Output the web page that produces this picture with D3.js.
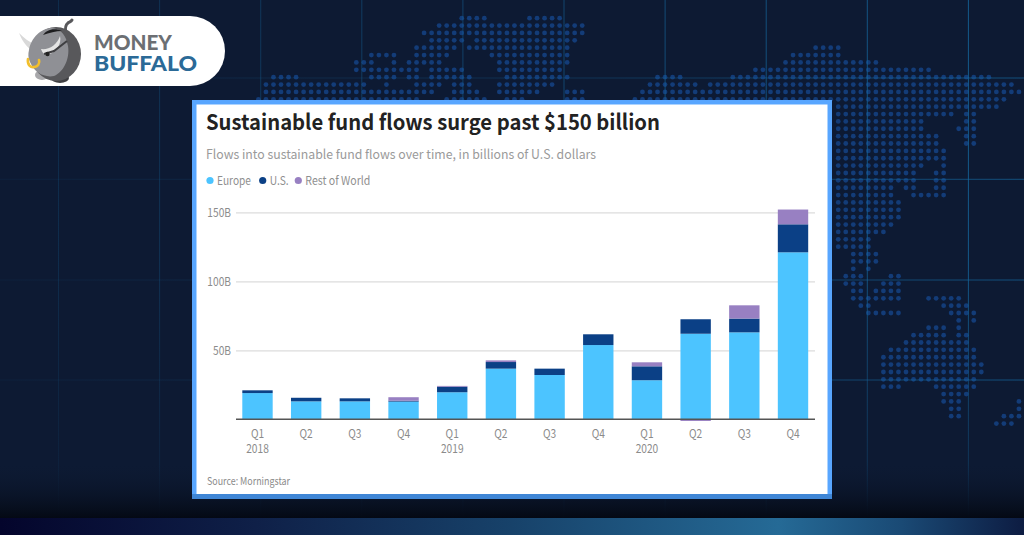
<!DOCTYPE html>
<html>
<head>
<meta charset="utf-8">
<title>Sustainable fund flows</title>
<script src="https://cdn.jsdelivr.net/npm/d3@7"></script>
<style>
  html, body { margin: 0; padding: 0; background: #0d1a33; }
  svg { display: block; }
  text { font-family: "Noto Sans CJK SC", "Noto Sans", sans-serif; }
  .tick-label { fill: #8b8b8b; font-size: 12px; }
</style>
</head>
<body>
<svg id="chart" width="1024" height="535"></svg>
<script>
// Fund flows by quarter, billions of U.S. dollars
const quarters = ["Q1", "Q2", "Q3", "Q4", "Q1", "Q2", "Q3", "Q4", "Q1", "Q2", "Q3", "Q4"];
const years = ["2018", "", "", "", "2019", "", "", "", "2020", "", "", ""];
const europe = [19, 13, 13, 12.8, 19.6, 36.7, 32.1, 53.8, 28.3, 62, 63, 121];
const us = [2, 2.6, 2.2, 0.7, 4, 4.8, 4.6, 7.8, 10.1, 10.5, 10, 20.3];
const restOfWorld = [0, 0, 0, 2.5, 0.6, 1.2, 0, 0, 2.9, -1.2, 9.6, 10.7];
const seriesNames = ["Europe", "U.S.", "Rest of World"];
const seriesColors = ["#4cc4ff", "#0b4086", "#9880c2"];
const yTicks = [50, 100, 150];

// Dotted world map: [row, first column, last column] runs on a regular grid
const mapRuns = [
  [-4,-49,-46],[-4,-40,-36],
  [-3,-52,-33],
  [-2,-54,-33],
  [-1,-53,-49],[-1,-47,-34],
  [0,-55,-50],[0,-48,-35],[0,-2,1],
  [1,-61,-58],[1,-55,-51],[1,-45,-35],[1,-5,1],
  [2,-63,-61],[2,-58,-58],[2,-56,-52],[2,-44,-35],[2,-6,6],
  [3,-63,-55],[3,-53,-49],[3,-44,-36],[3,-10,13],
  [4,-74,-71],[4,-61,-58],[4,-56,-55],[4,-53,-48],[4,-43,-35],[4,-23,-20],[4,-13,21],
  [5,-75,-62],[5,-59,-59],[5,-55,-52],[5,-50,-48],[5,-44,-37],[5,-24,-18],[5,-16,24],
  [6,-75,-53],[6,-50,-47],[6,-44,-39],[6,-35,-33],[6,-25,25],
  [7,-76,-55],[7,-51,-46],[7,-43,-41],[7,-35,-33],[7,-26,23],
  [8,1,22],
  [9,1,16],[9,18,19],
  [10,1,12],[10,18,19],
  [11,1,12],[11,17,19],
  [12,1,14],[12,18,19],
  [13,1,14],[13,18,19],
  [14,1,15],[15,1,15],
  [16,1,12],[16,15,15],
  [17,1,11],[17,14,15],
  [18,1,11],[18,14,15],
  [19,1,8],[19,10,11],[19,14,15],
  [20,1,8],[20,11,15],
  [21,1,9],[22,1,9],[23,1,9],[24,1,8],[25,1,7],[26,1,5],[27,1,5],
  [28,3,6],[29,3,6],
  [30,3,3],[30,5,5],
  [31,2,4],[31,8,9],
  [32,2,4],[32,7,9],
  [33,3,4],[33,6,9],
  [34,3,9],[34,13,17],
  [35,4,5],[35,15,18],
  [36,5,9],[36,16,19],
  [37,17,17],[37,19,19],
  [38,13,15],[38,17,17],
  [39,11,15],[39,17,18],
  [40,10,18],[41,8,19],[42,7,19],[43,7,20],[44,7,20],[45,7,19],
  [46,7,9],[46,14,19],
  [47,15,18],
  [48,15,17],[48,25,25],
  [49,16,17],[49,25,25],
  [50,16,17],[50,23,25],
  [51,22,24]
];

const svg = d3.select("#chart");
const defs = svg.append("defs");

// Page background with a darker foot and a coloured band along the bottom
const fade = defs.append("linearGradient").attr("id", "footFade")
  .attr("x1", 0).attr("x2", 0).attr("y1", 0).attr("y2", 1);
fade.append("stop").attr("offset", 0).attr("stop-color", "#0d1a33").attr("stop-opacity", 0);
fade.append("stop").attr("offset", 1).attr("stop-color", "#040914");

const band = defs.append("linearGradient").attr("id", "footBand");
[[0, "#04052c"], [0.25, "#0f2048"], [0.5, "#17426a"], [0.76, "#256a96"], [0.88, "#1a4a75"], [1, "#0d1c42"]]
  .forEach(([o, c]) => band.append("stop").attr("offset", o).attr("stop-color", c));

// Graticule strokes: the verticals dim downward, the horizontals dim to the left
const vLine = defs.append("linearGradient").attr("id", "vLine").attr("gradientUnits", "userSpaceOnUse")
  .attr("x1", 0).attr("x2", 0).attr("y1", 0).attr("y2", 518);
vLine.append("stop").attr("offset", 0).attr("stop-color", "#14669c");
vLine.append("stop").attr("offset", 0.5).attr("stop-color", "#14669c");
vLine.append("stop").attr("offset", 1).attr("stop-color", "#14669c").attr("stop-opacity", 0.25);
const hLine = defs.append("linearGradient").attr("id", "hLine").attr("gradientUnits", "userSpaceOnUse")
  .attr("x1", 0).attr("x2", 1024).attr("y1", 0).attr("y2", 0);
hLine.append("stop").attr("offset", 0).attr("stop-color", "#14669c").attr("stop-opacity", 0.08);
hLine.append("stop").attr("offset", 0.55).attr("stop-color", "#14669c").attr("stop-opacity", 0.3);
hLine.append("stop").attr("offset", 1).attr("stop-color", "#14669c").attr("stop-opacity", 0.7);

svg.append("rect").attr("width", 1024).attr("height", 535).attr("fill", "#0d1a33");

// Map dots
const colX = c => 830.7 + 7.53 * c;
const rowY = r => 47.7 + 7.37 * r;
const dots = mapRuns.flatMap(([r, a, b]) => d3.range(a, b + 1).map(c => [r, c]));
svg.append("g").selectAll("circle").data(dots).join("circle")
  .attr("cx", d => colX(d[1])).attr("cy", d => rowY(d[0]))
  .attr("r", 2.4).attr("fill", "#133c78");

// Thin graticule, brighter toward the right edge
const gridXs = d3.range(0, 10).map(k => 58.5 + 101.1 * k);
const gridYs = [78, 179.3, 280, 380];
const glow = d3.scaleLinear().domain([0, 1024]).range([0.2, 0.85]);
svg.append("g").selectAll("line").data(gridXs).join("line")
  .attr("x1", d => d + 0.01).attr("x2", d => d).attr("y1", 0).attr("y2", 518)
  .attr("stroke", "url(#vLine)").attr("stroke-opacity", d => glow(d));
svg.append("g").selectAll("line").data(gridYs).join("line")
  .attr("x1", 0).attr("x2", 1024).attr("y1", d => d).attr("y2", d => d + 0.01)
  .attr("stroke", "url(#hLine)");

svg.append("rect").attr("x", 0).attr("y", 462).attr("width", 1024).attr("height", 56).attr("fill", "url(#footFade)");
svg.append("rect").attr("x", 0).attr("y", 518).attr("width", 1024).attr("height", 17).attr("fill", "url(#footBand)");

// Card
svg.append("rect").attr("x", 192).attr("y", 100).attr("width", 640).attr("height", 399).attr("fill", "#58a6ff");
svg.append("rect").attr("x", 192).attr("y", 494).attr("width", 640).attr("height", 5).attr("fill", "#3f86d6");
svg.append("rect").attr("x", 196.5).attr("y", 104.5).attr("width", 631).attr("height", 389.5).attr("fill", "#fff");

// Heading block, set slightly condensed
svg.append("text").attr("x", 206).attr("y", 130)
  .attr("font-size", 21.5).attr("font-weight", 700).attr("fill", "#222")
  .attr("textLength", 454).attr("lengthAdjust", "spacingAndGlyphs")
  .text("Sustainable fund flows surge past $150 billion");
svg.append("text").attr("x", 206).attr("y", 159)
  .attr("font-size", 13).attr("fill", "#9a9a9a")
  .attr("textLength", 390).attr("lengthAdjust", "spacingAndGlyphs")
  .text("Flows into sustainable fund flows over time, in billions of U.S. dollars");

// Legend
const legendDotX = [210, 262.7, 298.3];
const legendWidths = [34, 19, 65];
const legend = svg.append("g").selectAll("g").data(seriesNames).join("g")
  .attr("transform", (d, i) => `translate(${legendDotX[i]},180.5)`);
legend.append("circle").attr("r", 3.6).attr("fill", (d, i) => seriesColors[i]);
legend.append("text").attr("x", 7).attr("y", 4.3)
  .attr("font-size", 12).attr("fill", "#8f8f8f")
  .attr("textLength", (d, i) => legendWidths[i]).attr("lengthAdjust", "spacingAndGlyphs")
  .text(d => d);

// Scales
const x = d3.scaleBand().domain(d3.range(quarters.length))
  .range([233.15, 817.35]).paddingInner(0.376).paddingOuter(0.188);
const y = d3.scaleLinear().domain([0, 150]).range([419.3, 212.3]);

// Y axis with full-width gridlines
const yAxis = svg.append("g").attr("transform", "translate(236,0)")
  .call(d3.axisLeft(y).tickValues(yTicks).tickSize(-579).tickPadding(5).tickFormat(d => d + "B"));
yAxis.select(".domain").remove();
yAxis.selectAll("line").attr("stroke", "#dcdcdc").attr("stroke-width", 1.2);
yAxis.selectAll("text").attr("class", "tick-label")
  .attr("x", 0).attr("transform", "translate(-5,0) scale(0.85,1)");

// Stacked bars; a negative value hangs below the baseline
const rows = quarters.map((q, i) => ({ i, Europe: europe[i], "U.S.": us[i], "Rest of World": restOfWorld[i] }));
const stacked = d3.stack().keys(seriesNames).offset(d3.stackOffsetDiverging)(rows);
svg.append("g").selectAll("g").data(stacked).join("g")
  .attr("fill", (d, i) => seriesColors[i])
  .selectAll("rect").data(d => d).join("rect")
  .attr("x", d => x(d.data.i)).attr("width", x.bandwidth())
  .attr("y", d => y(Math.max(d[0], d[1])))
  .attr("height", d => Math.abs(y(d[0]) - y(d[1])));

// Baseline and two-line quarter labels
const xAxis = svg.append("g").attr("transform", `translate(0,${y(0)})`)
  .call(d3.axisBottom(x).tickSize(0).tickFormat(d => quarters[d]));
xAxis.select(".domain").attr("d", "M236,0H815").attr("stroke", "#555").attr("stroke-width", 1.5);
xAxis.selectAll(".tick text").attr("class", "tick-label")
  .attr("y", 19).attr("dy", null).attr("transform", "scale(0.85,1)");
xAxis.selectAll(".tick").append("text").attr("class", "tick-label")
  .attr("fill", null).attr("y", 33.5).attr("text-anchor", "middle").attr("transform", "scale(0.85,1)")
  .text(d => years[d]);

svg.append("text").attr("x", 207).attr("y", 485)
  .attr("font-size", 11).attr("fill", "#8b8b8b")
  .attr("textLength", 83).attr("lengthAdjust", "spacingAndGlyphs").text("Source: Morningstar");

// Brand tab, top left
const brand = svg.append("g");
brand.append("path").attr("d", "M0,16H190A35,35 0 0 1 190,86H0Z").attr("fill", "#fff");
brand.append("path").attr("d", "M19,33C22,40 25,45 31,50L35,44C29,42 24,38 19,33Z").attr("fill", "#d9d9d9");
brand.append("path").attr("d", "M66,34C65,29 65,25 68,23C69,22 71,22 72,20")
  .attr("fill", "none").attr("stroke", "#58585b").attr("stroke-width", 3).attr("stroke-linecap", "round");
brand.append("ellipse").attr("cx", 42).attr("cy", 75).attr("rx", 7).attr("ry", 5).attr("fill", "#a8a8ab");
brand.append("ellipse").attr("cx", 60).attr("cy", 78).attr("rx", 9).attr("ry", 5).attr("fill", "#3f3f42");
brand.append("ellipse").attr("cx", 56).attr("cy", 54).attr("rx", 25).attr("ry", 27).attr("fill", "#58585b");
brand.append("path").attr("d", "M29,50C31,38 41,28 52,28C62,29 66,36 68,46C70,58 64,72 54,76C44,78 34,72 30,62C28,58 28,54 29,50Z").attr("fill", "#8f9095");
brand.append("path").attr("d", "M43,35C46,30 54,27 62,31C56,31 49,33 43,35Z").attr("fill", "#1d1d1f");
brand.append("path").attr("d", "M41,49C49,50 57,45 60,36C62,44 56,53 47,55C44,55 42,52 41,49Z").attr("fill", "#e4e4e4");
brand.append("path").attr("d", "M44,54L54,51L67,41").attr("fill", "none").attr("stroke", "#3f3f42").attr("stroke-width", 2);
brand.append("circle").attr("cx", 47.5).attr("cy", 54).attr("r", 2.2).attr("fill", "#222");
brand.append("path").attr("d", "M28,59C27,65 31,68 34,67C38,67 40,63 39,60")
  .attr("fill", "none").attr("stroke", "#f2bf2c").attr("stroke-width", 2.6).attr("stroke-linecap", "round");
brand.append("text").attr("x", 94).attr("y", 50).attr("textLength", 78).attr("lengthAdjust", "spacingAndGlyphs")
  .attr("style", "font-family:Lato").attr("font-size", 21).attr("font-weight", 900).attr("fill", "#6c6f73").text("MONEY");
brand.append("text").attr("x", 94).attr("y", 71).attr("textLength", 103).attr("lengthAdjust", "spacingAndGlyphs")
  .attr("style", "font-family:Lato").attr("font-size", 21).attr("font-weight", 900).attr("fill", "#2b6a97").text("BUFFALO");
</script>
</body>
</html>
